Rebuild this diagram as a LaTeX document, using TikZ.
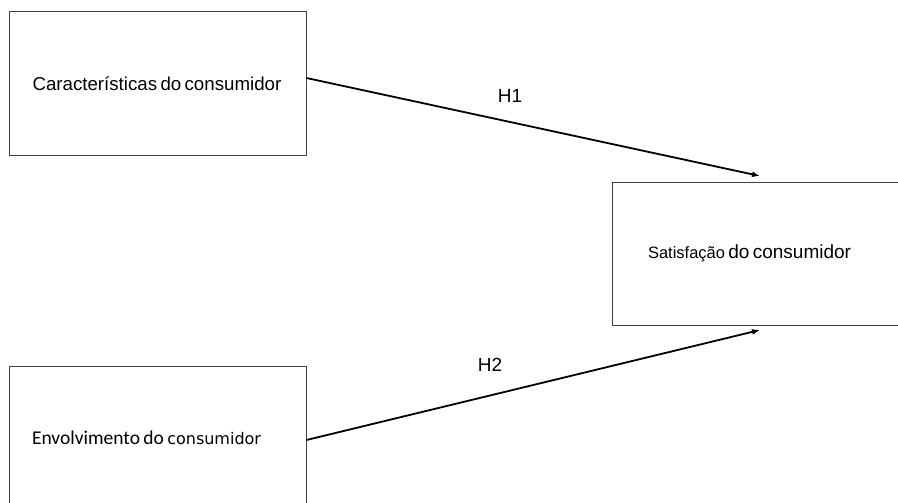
\documentclass[tikz,border=0pt]{standalone}
\usepackage{fontspec}
\setmainfont{Liberation Sans}
\newfontfamily\carlito{Carlito}
\newfontfamily\dejavu{DejaVu Sans}
\usetikzlibrary{arrows.meta}

\begin{document}
\begin{tikzpicture}[x=1pt,y=-1pt,
   box/.style={draw=black!75, line width=1pt, minimum height=143pt, align=left, inner ysep=0pt},
   hyp/.style={font=\fontsize{19}{22}\selectfont},
   link/.style={line width=1.8pt, -{Latex[length=8pt,width=6pt]}}]

   \useasboundingbox (0,0) rectangle (898,503);
   \clip (0,0) rectangle (898,503);

   \node (Caract) at (157.75,83.5) [box, inner xsep=23pt, text width=250.5pt] {\fontsize{18.7}{22}\selectfont Características do consumidor};
   \node (Satisf) at (758.5,253.5) [box, inner xsep=36pt, text width=221pt] {{\fontsize{16.5}{18}\selectfont Satisfação} \fontsize{19}{22}\selectfont do consumidor};
   \node (Envolv) at (157.5,437.5) [box, inner xsep=23pt, text width=251pt] {{\carlito\fontsize{19.5}{22}\selectfont Envolvimento do} {\dejavu\fontsize{16}{19}\selectfont consumidor}};

   \node (H1) at (510,95.5) [hyp] {H1};
   \node (H2) at (490,365) [hyp] {H2};

   \coordinate (Tip1) at (760,176);
   \coordinate (Tip2) at (760,330);

   \draw [link] ([yshift=5.5pt]Caract.east) -- (Tip1);
   \draw [link] ([yshift=-2.5pt]Envolv.east) -- (Tip2);

\end{tikzpicture}
\end{document}
